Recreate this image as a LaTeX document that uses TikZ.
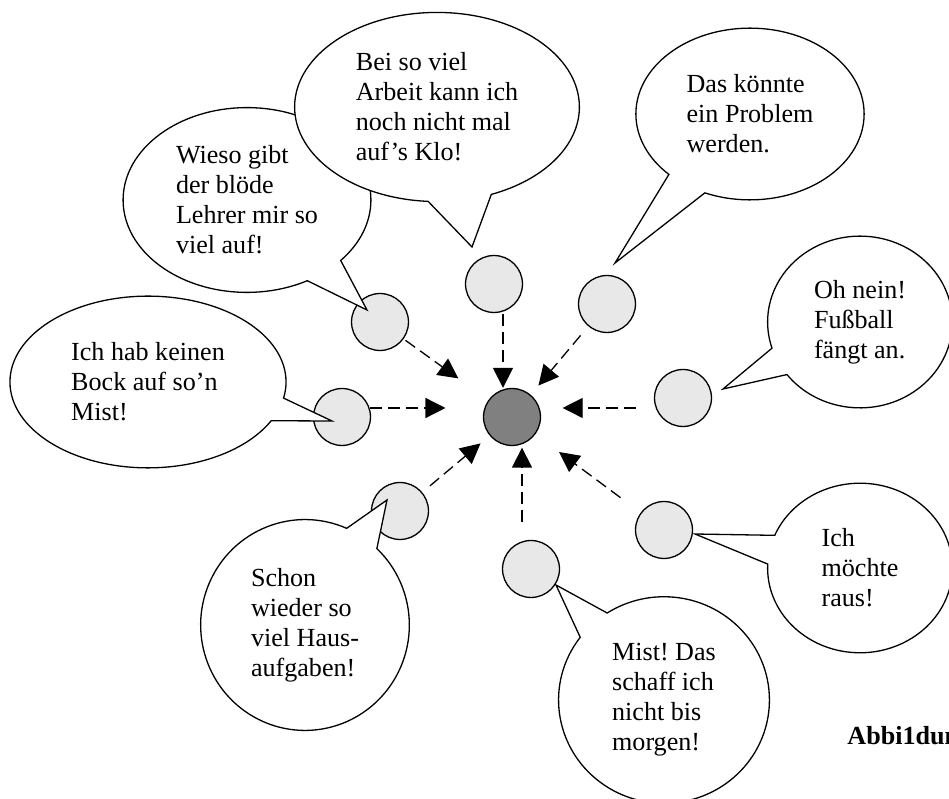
\documentclass[tikz,border=0pt]{standalone}
\usepackage{fontspec}
\setmainfont{Liberation Serif}
\usetikzlibrary{arrows.meta,shapes.callouts}
\frenchspacing

\begin{document}
\begin{tikzpicture}[x=0.46pt, y=-0.46pt, >={Triangle[length=9.2pt,width=9.2pt]},
    person/.style={circle, draw, line width=0.6pt, fill=gray!18, minimum size=26.2pt, inner sep=0pt},
    bubble/.style={ellipse callout, draw, fill=white, line width=0.6pt, align=left, inner sep=1pt,
        font=\fontsize{12}{13.8}\selectfont},
    dasharrow/.style={->, line width=0.6pt, dash pattern=on 5.5pt off 2.8pt}]

    \useasboundingbox (0,0) rectangle (949,799);

    % Center node
    \node[person, fill=gray] (hub) at (512,417) {};

    % Person nodes
    \node[person] (p1) at (342,417) {};
    \node[person] (p2) at (380,322) {};
    \node[person] (p3) at (494,284) {};
    \node[person] (p4) at (607,304) {};
    \node[person] (p5) at (683,398) {};
    \node[person] (p6) at (664,530) {};
    \node[person] (p7) at (531,569) {};
    \node[person] (p8) at (400,511) {};

    % Speech bubbles
    \node[bubble, minimum width=127pt, minimum height=79pt, callout pointer arc=16,
        callout absolute pointer={(332,421)}] (b1) at (148,382)
        {Ich hab keinen\\Bock auf so’n\\Mist!};
    \node[bubble, minimum width=114pt, minimum height=85pt, callout pointer arc=20,
        callout absolute pointer={(367,310)}] (b2) at (247,200)
        {Wieso gibt\\der blöde\\Lehrer mir so\\viel auf!};
    \node[bubble, minimum width=131pt, minimum height=87pt, callout pointer arc=26,
        callout absolute pointer={(472,247)}] (b3) at (437,107)
        {Bei so viel\\Arbeit kann ich\\noch nicht mal\\auf’s Klo!};
    \node[bubble, minimum width=105pt, minimum height=79pt, callout pointer arc=22,
        callout absolute pointer={(615,263)}] (b4) at (750,114)
        {Das könnte\\ein Problem\\werden.};
    \node[bubble, minimum width=85pt, minimum height=79pt, callout pointer arc=20,
        callout absolute pointer={(723,389)}] (b5) at (860,322)
        {Oh nein!\\Fußball\\fängt an.};
    \node[bubble, minimum width=85pt, minimum height=78pt, callout pointer arc=20,
        callout absolute pointer={(695,534)}] (b6) at (860,568)
        {Ich\\möchte\\raus!};
    \node[bubble, minimum width=97pt, minimum height=95pt, callout pointer arc=20,
        callout absolute pointer={(556,585)}] (b7) at (664,700)
        {Mist! Das\\schaff ich\\nicht bis\\morgen!};
    \node[bubble, minimum width=96pt, minimum height=97pt, callout pointer arc=20,
        callout absolute pointer={(387,500)}] (b8) at (305,625)
        {Schon\\wieder so\\viel Haus-\\aufgaben!};

    % Connect persons to center
    \draw[dasharrow, shorten >=17.2pt] (p1.18) -- (p1.18 -| hub.west);
    \draw[dasharrow, shorten <=1pt, shorten >=17pt] (p2) -- (hub);
    \draw[dasharrow, shorten <=1pt] (p3.-72) -- (p3.-72 |- hub.north);
    \draw[dasharrow, shorten <=5.5pt, shorten >=5.5pt] (p4) -- (hub);
    \draw[dasharrow, shorten <=9.2pt, shorten >=9.9pt] (p5.200) -- (p5.200 -| hub.east);
    \draw[dasharrow, shorten <=11.5pt, shorten >=13.6pt] (p6) -- (hub);
    \draw[dasharrow, shorten <=9pt, shorten >=0.7pt] (p7.108) -- (p7.108 |- hub.south);
    \draw[dasharrow, shorten <=4.6pt, shorten >=5.5pt] (p8) -- (hub);

    % Caption
    \node[font=\fontsize{12}{13.8}\selectfont\bfseries, anchor=base west, inner sep=0pt]
        (caption) at (847,745) {Abbi1dun};

\end{tikzpicture}
\end{document}
